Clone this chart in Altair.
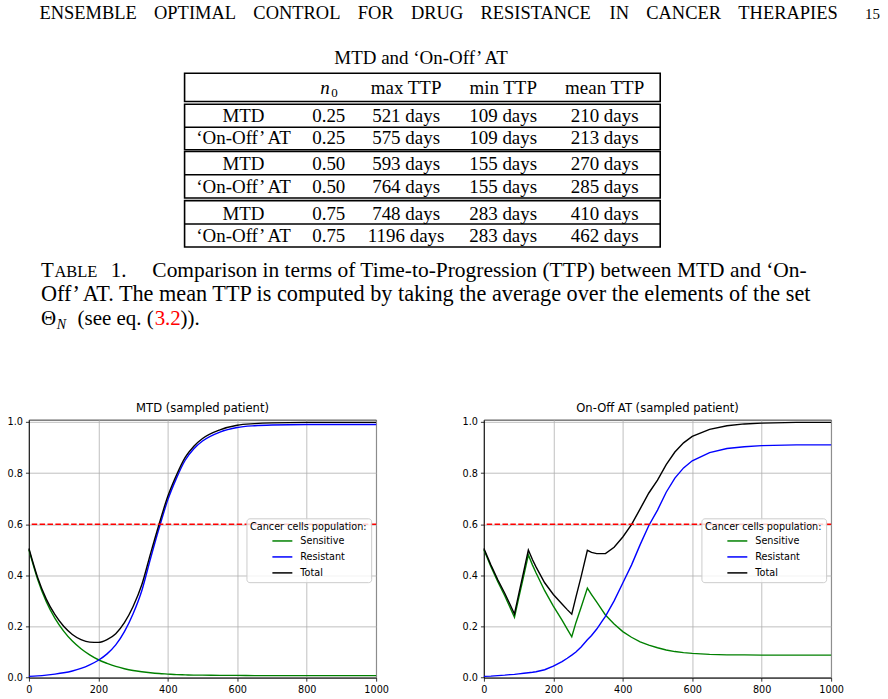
import altair as alt
import pandas as pd

# ---------------- table values ----------------
methods = ["MTD", "‘On-Off’ AT", "MTD", "‘On-Off’ AT", "MTD", "‘On-Off’ AT"]
n0_values = ["0.25", "0.25", "0.50", "0.50", "0.75", "0.75"]
max_ttp = [521, 575, 593, 764, 748, 1196]
min_ttp = [109, 109, 155, 155, 283, 283]
mean_ttp = [210, 213, 270, 285, 410, 462]
ttp_headers = ["max TTP", "min TTP", "mean TTP"]

table_title = "MTD and ‘On-Off’ AT"
running_head = ["ENSEMBLE", "OPTIMAL", "CONTROL", "FOR", "DRUG",
                "RESISTANCE", "IN", "CANCER", "THERAPIES"]
page_number = "15"
caption_line1 = "Comparison in terms of Time-to-Progression (TTP) between MTD and ‘On-"
caption_line2 = ("Off’ AT. The mean TTP is computed by taking the average over "
                 "the elements of the set")

# ---------------- trajectories (fraction of capacity) ----------------
series_names = ["Sensitive", "Resistant", "Total"]
series_colors = ["green", "blue", "black"]
ttp_threshold = 0.6

days_mtd = [0, 25, 50, 75, 100, 125, 150, 175, 200, 225, 250, 275, 300, 325,
            350, 375, 400, 425, 450, 475, 500, 550, 600, 650, 700, 800, 900, 1000]
sens_mtd = [0.500, 0.385, 0.297, 0.232, 0.182, 0.143, 0.113, 0.089, 0.070, 0.056,
            0.044, 0.035, 0.028, 0.023, 0.019, 0.016, 0.014, 0.012, 0.011, 0.010,
            0.010, 0.009, 0.009, 0.008, 0.008, 0.008, 0.008, 0.008]
res_mtd = [0.005, 0.007, 0.010, 0.014, 0.019, 0.026, 0.036, 0.050, 0.068, 0.093,
           0.128, 0.180, 0.250, 0.340, 0.465, 0.585, 0.695, 0.780, 0.850, 0.895,
           0.925, 0.960, 0.978, 0.985, 0.988, 0.990, 0.990, 0.990]
tot_mtd = [0.505, 0.392, 0.307, 0.246, 0.201, 0.169, 0.149, 0.139, 0.138, 0.149,
           0.172, 0.215, 0.278, 0.363, 0.484, 0.601, 0.709, 0.792, 0.861, 0.905,
           0.935, 0.969, 0.987, 0.993, 0.996, 0.998, 0.998, 0.998]

days_at = [0, 20, 40, 60, 75, 88, 100, 115, 128, 140, 150, 175, 200, 225, 240,
           253, 265, 280, 298, 310, 325, 340, 350, 375, 400, 425, 450, 475, 500,
           525, 550, 575, 600, 650, 700, 750, 800, 900, 1000]
sens_at = [0.500, 0.435, 0.375, 0.320, 0.275, 0.236, 0.310, 0.400, 0.480, 0.440,
           0.410, 0.340, 0.280, 0.225, 0.190, 0.160, 0.215, 0.275, 0.350, 0.325,
           0.295, 0.265, 0.245, 0.210, 0.180, 0.158, 0.140, 0.127, 0.117, 0.108,
           0.102, 0.098, 0.095, 0.091, 0.089, 0.089, 0.088, 0.088, 0.088]
res_at = [0.005, 0.006, 0.008, 0.010, 0.012, 0.013, 0.015, 0.017, 0.019, 0.021,
          0.023, 0.031, 0.045, 0.063, 0.076, 0.088, 0.100, 0.120, 0.148, 0.165,
          0.190, 0.220, 0.240, 0.300, 0.370, 0.440, 0.520, 0.595, 0.655, 0.725,
          0.780, 0.820, 0.848, 0.880, 0.896, 0.903, 0.907, 0.910, 0.910]
tot_at = [0.505, 0.441, 0.383, 0.330, 0.287, 0.249, 0.325, 0.417, 0.499, 0.461,
          0.433, 0.371, 0.325, 0.288, 0.266, 0.248, 0.315, 0.395, 0.498, 0.490,
          0.485, 0.485, 0.485, 0.510, 0.550, 0.598, 0.660, 0.722, 0.772, 0.833,
          0.882, 0.918, 0.943, 0.971, 0.985, 0.992, 0.995, 0.998, 0.998]

# ---------------- layout ----------------
SERIF = "Liberation Serif"
SANS = "DejaVu Sans"
PAGE_W, PAGE_H = 888, 401
AXIS_GUTTER = 28          # room left of the panels for the y tick labels

HEAD_X = [38.5, 153.4, 252.9, 357.6, 410.9, 480.6, 609.9, 646.7, 739.0]
HEAD_BASE = 17.3
HEAD_SIZE = 18.5
COL_X = [243, 328.5, 406, 503.3, 605]
HEADER_BASE = 92.3
ROW_BASE = [120, 142.7, 169, 191.7, 218.3, 241]
TABLE_LEFT, TABLE_RIGHT = 184, 660.7
BOX_TOPS = [71.7, 102.7, 150, 199.3]
BOX_BOTTOMS = [100, 148.3, 196.7, 245.7]
ROW_SEPARATORS = [125.7, 173.3, 222.7]
CAP_BASE = [275.7, 300, 324.3]

# page block shares its left edge with the panels' plot area
page_x = alt.Scale(domain=[AXIS_GUTTER, PAGE_W], nice=False, zero=False)
page_y = alt.Scale(domain=[0, PAGE_H], nice=False, zero=False, reverse=True)


def txt(x, y, text, size, color="black"):
    return {"x": x, "y": y, "text": text, "size": size, "color": color}


def text_layer(rows, align, style="normal"):
    return alt.Chart(pd.DataFrame(rows)).mark_text(
        align=align, baseline="alphabetic", font=SERIF, fontStyle=style
    ).encode(
        x=alt.X("x:Q", scale=page_x, axis=None),
        y=alt.Y("y:Q", scale=page_y, axis=None),
        text="text:N",
        size=alt.Size("size:Q", scale=None),
        color=alt.Color("color:N", scale=None),
    )


# left-aligned text: running head, caption
left_rows = [txt(x, HEAD_BASE, w, HEAD_SIZE) for x, w in zip(HEAD_X, running_head)]
left_rows.append(txt(866, HEAD_BASE, page_number, 15))
left_rows += [
    txt(40, CAP_BASE[0], "T", 21),
    txt(53.5, CAP_BASE[0], "ABLE", 16.5),
    txt(110, CAP_BASE[0], "1.", 21),
    txt(151.7, CAP_BASE[0], caption_line1, 21.5),
    txt(40, CAP_BASE[1], caption_line2, 22.3),
    txt(40, CAP_BASE[2], "Θ", 21),
    txt(76.7, CAP_BASE[2], "(see eq. (", 21),
    txt(154, CAP_BASE[2], "3.2", 21, "#ff0000"),
    txt(180, CAP_BASE[2], ")).", 21),
    txt(331, HEADER_BASE + 3.2, "0", 13),
]

# centred text: table title and cells
center_rows = [txt(421, 62, table_title, 19)]
center_rows += [txt(x, HEADER_BASE, h, 19) for x, h in zip(COL_X[2:], ttp_headers)]
for i in range(len(methods)):
    cells = [methods[i], n0_values[i], f"{max_ttp[i]} days",
             f"{min_ttp[i]} days", f"{mean_ttp[i]} days"]
    center_rows += [txt(x, ROW_BASE[i], c, 19) for x, c in zip(COL_X, cells)]

italic_rows = [txt(320, HEADER_BASE, "n", 19), txt(56, CAP_BASE[2] + 3.2, "N", 14)]

boxes = pd.DataFrame({
    "x": [TABLE_LEFT] * 4, "x2": [TABLE_RIGHT] * 4,
    "y": BOX_TOPS, "y2": BOX_BOTTOMS,
})
seps = pd.DataFrame({
    "x": [TABLE_LEFT] * 3, "x2": [TABLE_RIGHT] * 3, "y": ROW_SEPARATORS,
})

box_layer = alt.Chart(boxes).mark_rect(
    fillOpacity=0, stroke="black", strokeWidth=1.6
).encode(
    x=alt.X("x:Q", scale=page_x, axis=None), x2="x2:Q",
    y=alt.Y("y:Q", scale=page_y, axis=None), y2="y2:Q",
)
sep_layer = alt.Chart(seps).mark_rule(color="black", strokeWidth=1.6).encode(
    x=alt.X("x:Q", scale=page_x, axis=None), x2="x2:Q",
    y=alt.Y("y:Q", scale=page_y, axis=None),
)

page = alt.layer(
    box_layer, sep_layer,
    text_layer(left_rows, "left"),
    text_layer(center_rows, "center"),
    text_layer(italic_rows, "left", "italic"),
).properties(width=PAGE_W - AXIS_GUTTER, height=PAGE_H)

# ---------------- simulation panels ----------------
PLOT_W, PLOT_H = 348, 258.4
Y_TOP = 1.008


def panel(days, sens, res, tot, title, interp):
    frames = []
    for name, vals in zip(series_names, [sens, res, tot]):
        frames.append(pd.DataFrame({"day": days, "value": vals, "series": name}))
    df = pd.concat(frames, ignore_index=True)

    legend = alt.Legend(
        title="Cancer cells population:", orient="none", legendX=218, legendY=98.7,
        symbolType="stroke", symbolSize=400, symbolStrokeWidth=1.5,
        symbolOffset=0, labelOffset=7, rowPadding=-7.7, titlePadding=-2,
        labelFont=SANS, labelFontSize=9.7, labelColor="black",
        titleFont=SANS, titleFontSize=9.7, titleFontWeight="normal",
        titleColor="black", titleAnchor="middle",
        fillColor="rgba(255,255,255,0.8)", strokeColor="#cccccc",
        cornerRadius=3, padding=4,
    )
    lines = alt.Chart(df).mark_line(strokeWidth=1.4, interpolate=interp).encode(
        x=alt.X("day:Q", title=None,
                scale=alt.Scale(domain=[0, 1000], nice=False, zero=False),
                axis=alt.Axis(values=[0, 200, 400, 600, 800, 1000], format="d",
                              labelFlush=False, labelOverlap=False)),
        y=alt.Y("value:Q", title=None,
                scale=alt.Scale(domain=[0, Y_TOP], nice=False, zero=False),
                axis=alt.Axis(values=[0, 0.2, 0.4, 0.6, 0.8, 1.0], format=".1f",
                              labelFlush=False, minExtent=AXIS_GUTTER)),
        color=alt.Color("series:N", sort=series_names,
                        scale=alt.Scale(domain=series_names, range=series_colors),
                        legend=legend),
    )
    rule = alt.Chart(pd.DataFrame({"level": [ttp_threshold]})).mark_rule(
        color="red", strokeDash=[5.5, 2.4], strokeWidth=1.5
    ).encode(y=alt.Y("level:Q", scale=alt.Scale(domain=[0, Y_TOP], nice=False)))
    return alt.layer(lines, rule).properties(
        width=PLOT_W, height=PLOT_H, title=title,
        view=alt.ViewBackground(stroke="black", strokeWidth=0.8),
    )


left = panel(days_mtd, sens_mtd, res_mtd, tot_mtd, "MTD (sampled patient)", "monotone")
right = panel(days_at, sens_at, res_at, tot_at, "On-Off AT (sampled patient)", "linear")

plots = alt.hconcat(left, right, spacing=66).resolve_scale(
    color="independent").resolve_legend(color="independent")

chart = alt.vconcat(page, plots, spacing=0).properties(
    padding=0, background="white"
).configure_view(stroke="transparent").configure_axis(
    labelFont=SANS, labelFontSize=9.7, labelColor="black",
    tickColor="black", tickSize=3.5, tickWidth=0.8,
    domainColor="black", domainWidth=0.8,
    gridColor="#b0b0b0", gridWidth=0.8, labelPadding=3,
).configure_title(
    font=SANS, fontSize=11.6, fontWeight="normal", color="black",
    anchor="middle", frame="group", offset=2,
)

chart.save("out.html", embed_options={"renderer": "svg", "actions": False})
